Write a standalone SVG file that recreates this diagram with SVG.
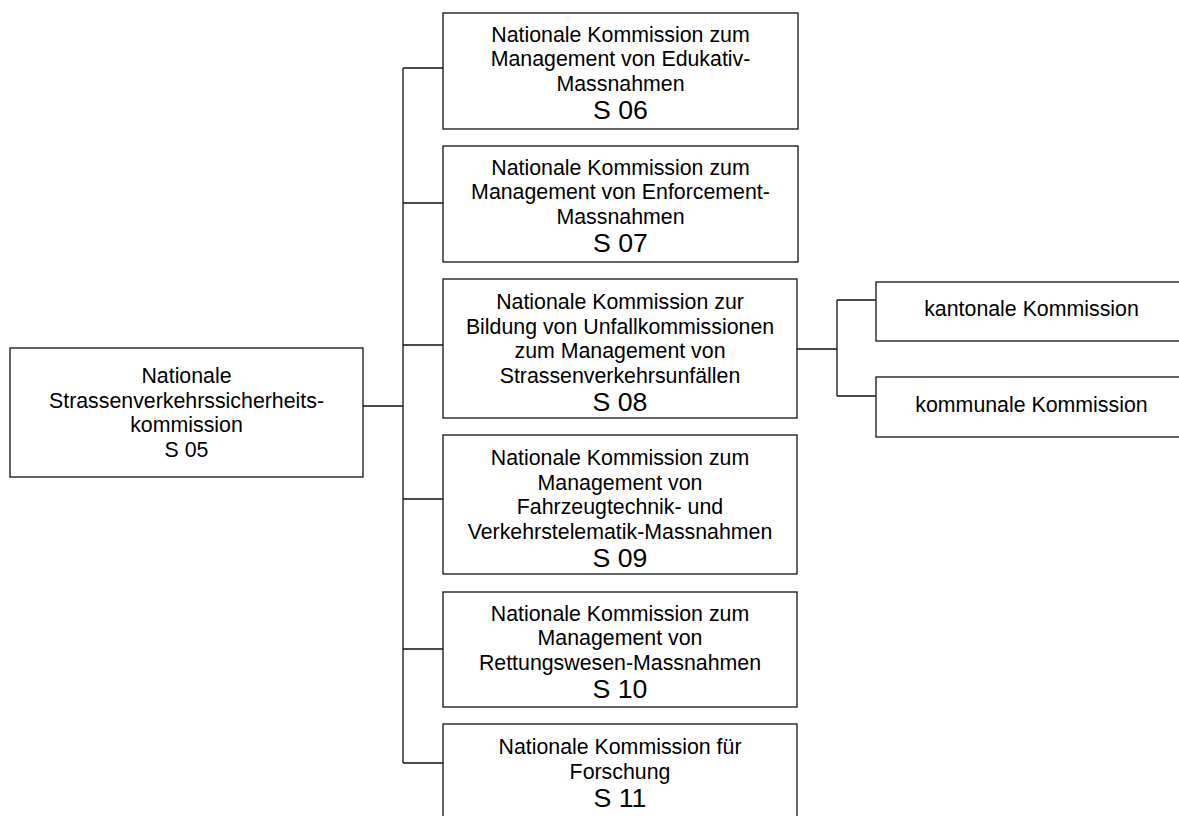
<svg xmlns="http://www.w3.org/2000/svg" width="1179" height="816" viewBox="0 0 1179 816">
<style>
.box{fill:#fff;stroke:#111;stroke-width:1.3}
.con{fill:none;stroke:#111;stroke-width:1.3}
text{font-family:"Liberation Sans",Arial,sans-serif;font-size:21.33px;fill:#000;text-anchor:middle}
.big{font-size:26.67px}
</style>
<rect width="1179" height="816" fill="#fff"/>
<g id="connectors">
<path class="con" d="M363,406H403M403,68V763M403,68H443M403,203H443M403,345H443M403,499H443M403,649H443M403,763H443"/>
<path class="con" d="M797,349H837M837,300V396M837,300H876M837,396H876"/>
</g>
<g id="s05">
<rect class="box" x="10" y="348" width="353" height="129"/>
<text x="186.5" y="383">Nationale</text>
<text x="186.5" y="407.5">Strassenverkehrssicherheits-</text>
<text x="186.5" y="432">kommission</text>
<text x="186.5" y="456.5">S 05</text>
</g>
<g id="s06">
<rect class="box" x="443" y="13" width="355" height="116"/>
<text x="620.5" y="41.5">Nationale Kommission zum</text>
<text x="620.5" y="66">Management von Edukativ-</text>
<text x="620.5" y="90.5">Massnahmen</text>
<text class="big" x="620.5" y="118.5">S 06</text>
</g>
<g id="s07">
<rect class="box" x="443" y="146" width="355" height="116"/>
<text x="620.5" y="174.5">Nationale Kommission zum</text>
<text x="620.5" y="199">Management von Enforcement-</text>
<text x="620.5" y="223.5">Massnahmen</text>
<text class="big" x="620.5" y="251.5">S 07</text>
</g>
<g id="s08">
<rect class="box" x="443" y="279" width="354" height="139"/>
<text x="620" y="309">Nationale Kommission zur</text>
<text x="620" y="333.5">Bildung von Unfallkommissionen</text>
<text x="620" y="358">zum Management von</text>
<text x="620" y="382.5">Strassenverkehrsunfällen</text>
<text class="big" x="620" y="410.5">S 08</text>
</g>
<g id="s09">
<rect class="box" x="443" y="435" width="354" height="139"/>
<text x="620" y="465">Nationale Kommission zum</text>
<text x="620" y="489.5">Management von</text>
<text x="620" y="514">Fahrzeugtechnik- und</text>
<text x="620" y="538.5">Verkehrstelematik-Massnahmen</text>
<text class="big" x="620" y="566.5">S 09</text>
</g>
<g id="s10">
<rect class="box" x="443" y="592" width="354" height="115"/>
<text x="620" y="620.5">Nationale Kommission zum</text>
<text x="620" y="645">Management von</text>
<text x="620" y="669.5">Rettungswesen-Massnahmen</text>
<text class="big" x="620" y="697.5">S 10</text>
</g>
<g id="s11">
<rect class="box" x="443" y="724" width="354" height="110"/>
<text x="620" y="754">Nationale Kommission für</text>
<text x="620" y="778.5">Forschung</text>
<text class="big" x="620" y="806.5">S 11</text>
</g>
<g id="kantonal">
<rect class="box" x="876" y="282" width="311" height="59"/>
<text x="1031.5" y="315.5">kantonale Kommission</text>
</g>
<g id="kommunal">
<rect class="box" x="876" y="377" width="311" height="60"/>
<text x="1031.5" y="411.5">kommunale Kommission</text>
</g>
</svg>
